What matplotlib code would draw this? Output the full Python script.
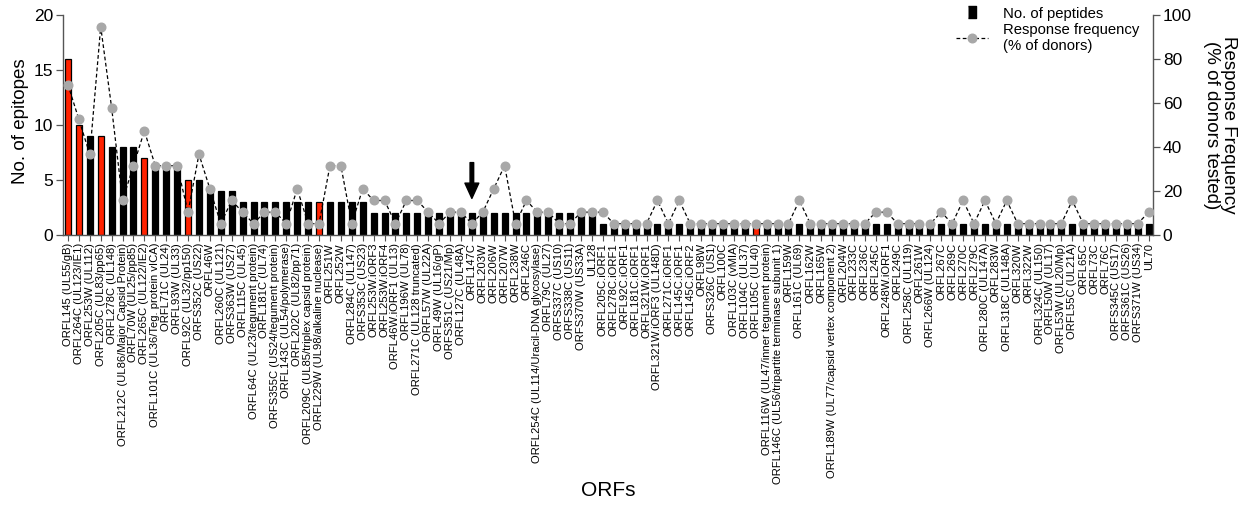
"""
Epitopes per ORF with donor response frequency overlay
"""

import matplotlib
matplotlib.use('Agg')
import matplotlib.pyplot as plt
from matplotlib.lines import Line2D

plt.rcParams['font.family'] = ['Liberation Sans', 'DejaVu Sans']

ORFS = [
    'ORFL145 (UL55/gB)', 'ORFL264C (UL123/IE1)', 'ORFL253W (UL112)', 'ORFL205C (UL83/pp65)',
    'ORFL278C (UL148)', 'ORFL212C (UL86/Major Capsid Protein)', 'ORFL70W (UL25/pp85)',
    'ORFL265C (UL122/IE2)', 'ORFL101C (UL36/Teg. protein vICA)', 'ORFL71C (UL24)',
    'ORFL93W (UL33)', 'ORFL92C (UL32/pp150)', 'ORFS352C (US22)', 'ORFL46W', 'ORFL260C (UL121)',
    'ORFS363W (US27)', 'ORFL115C (UL45)', 'ORFL64C (UL23/tegument protein)', 'ORFL181C (UL74)',
    'ORFS355C (US24/tegument protein)', 'ORFL143C (UL54/polymerase)', 'ORFL202C (UL82/pp71)',
    'ORFL209C (UL85/triplex capsid protein)', 'ORFL229W (UL98/alkaline nuclease)', 'ORFL251W',
    'ORFL252W', 'ORFL284C (UL147)', 'ORFS353C (US23)', 'ORFL253W.iORF3', 'ORFL253W.iORF4',
    'ORFL46W.iORF1 (UL13)', 'ORFL196W (UL78)', 'ORFL271C (UL128 truncated)', 'ORFL57W (UL22A)',
    'ORFL49W (UL16/gP)', 'ORFS351C (US21/Mp)', 'ORFL127C (UL48A)', 'ORFL147C', 'ORFL203W',
    'ORFL206W', 'ORFL207W', 'ORFL238W', 'ORFL246C', 'ORFL254C (UL114/Uracil-DNA glycosylase)',
    'ORFL79C (UL27)', 'ORFS337C (US10)', 'ORFS338C (US11)', 'ORFS370W (US33A)', 'UL128',
    'ORFL205C.iORF1', 'ORFL278C.iORF1', 'ORFL92C.iORF1', 'ORFL181C.iORF1', 'ORFL321W.iORF1',
    'ORFL321W.iORF3 (UL148D)', 'ORFL271C.iORF1', 'ORFL145C.iORF1', 'ORFL145C.iORF2', 'ORFL98W',
    'ORFS326C (US1)', 'ORFL100C', 'ORFL103C (vMIA)', 'ORFL104C (UL37)', 'ORFL105C (UL40)',
    'ORFL116W (UL47/inner tegument protein)', 'ORFL146C (UL56/tripartite terminase subunit 1)',
    'ORFL159W', 'ORFL161C (UL69)', 'ORFL162W', 'ORFL165W',
    'ORFL189W (UL77/capsid vertex component 2)', 'ORFL204W', 'ORFL233C', 'ORFL236C', 'ORFL245C',
    'ORFL248W.iORF1', 'ORFL249C', 'ORFL258C (UL119)', 'ORFL261W', 'ORFL266W (UL124)', 'ORFL267C',
    'ORFL269C', 'ORFL270C', 'ORFL279C', 'ORFL280C (UL147A)', 'ORFL283W', 'ORFL318C (UL148A)',
    'ORFL320W', 'ORFL322W', 'ORFL324C (UL150)', 'ORFL50W (UL17)', 'ORFL53W (UL20/Mp)',
    'ORFL55C (UL21A)', 'ORFL65C', 'ORFL73C', 'ORFL76C', 'ORFS345C (US17)', 'ORFS361C (US26)',
    'ORFS371W (US34)', 'UL70',
]

EPITOPES = [16, 10, 9, 9, 8, 8, 8, 7, 6, 6, 6, 5, 5, 4, 4, 4] + [3] * 12 + [2] * 21 + [1] * 51

RESPONSE = [
    68.4, 52.6, 36.8, 94.7, 57.9, 15.8, 31.6, 47.4, 31.6, 31.6,
    31.6, 10.5, 36.8, 21.1, 5.3, 15.8, 10.5, 5.3, 10.5, 10.5,
    5.3, 21.1, 5.3, 5.3, 31.6, 31.6, 5.3, 21.1, 15.8, 15.8,
    5.3, 15.8, 15.8, 10.5, 5.3, 10.5, 10.5, 5.3, 10.5, 21.1,
    31.6, 5.3, 15.8, 10.5, 10.5, 5.3, 5.3, 10.5, 10.5, 10.5,
    5.3, 5.3, 5.3, 5.3, 15.8, 5.3, 15.8, 5.3, 5.3, 5.3,
    5.3, 5.3, 5.3, 5.3, 5.3, 5.3, 5.3, 15.8, 5.3, 5.3,
    5.3, 5.3, 5.3, 5.3, 10.5, 10.5, 5.3, 5.3, 5.3, 5.3,
    10.5, 5.3, 15.8, 5.3, 15.8, 5.3, 15.8, 5.3, 5.3, 5.3,
    5.3, 5.3, 15.8, 5.3, 5.3, 5.3, 5.3, 5.3, 5.3, 10.5,
]

RED_ORFS = ['ORFL145 (UL55/gB)', 'ORFL264C (UL123/IE1)', 'ORFL205C (UL83/pp65)',
            'ORFL265C (UL122/IE2)', 'ORFL92C (UL32/pp150)', 'ORFL229W (UL98/alkaline nuclease)',
            'ORFL105C (UL40)']
ARROW_ORF = 'ORFL147C'

AXIS_COL = '#555555'
DOT_COL = '#A8A8A8'
DASH = (0, (3, 2))

fig = plt.figure(figsize=(12.46, 5.08), dpi=100)
ax = fig.add_axes([0.0506, 0.5368, 0.8748, 0.4337])
ax2 = ax.twinx()

x = list(range(len(ORFS)))
colors = ['#FF2200' if o in RED_ORFS else 'black' for o in ORFS]
ax.bar(x, EPITOPES, width=0.55, color=colors, edgecolor='black', linewidth=0.9, zorder=2)

ax2.plot(x, RESPONSE, color='black', linestyle=DASH, linewidth=0.9,
         marker='o', markersize=6.2, markerfacecolor=DOT_COL, markeredgecolor=DOT_COL, zorder=3)

ax.set_xlim(-0.45, len(ORFS) - 0.6)
ax.set_ylim(0, 20)
ax2.set_ylim(0, 100)
ax.set_yticks([0, 5, 10, 15, 20])
ax2.set_yticks([0, 20, 40, 60, 80, 100])

ax.set_xticks(x)
ax.set_xticklabels(ORFS, rotation=90, fontsize=8.1)
ax.tick_params(axis='x', length=4, width=0.8, color=AXIS_COL, pad=1.5)
ax.tick_params(axis='y', labelsize=12.5, length=5, width=0.9, color=AXIS_COL, pad=2)
ax2.tick_params(axis='y', labelsize=12.5, length=5, width=0.9, color=AXIS_COL, pad=2)

for a in (ax, ax2):
    a.spines['top'].set_visible(False)
    for s in ('left', 'right', 'bottom'):
        a.spines[s].set_color(AXIS_COL)
        a.spines[s].set_linewidth(1.0)
ax.spines['right'].set_visible(False)
ax2.spines['left'].set_visible(False)
ax2.spines['bottom'].set_visible(False)

ax.set_ylabel('No. of epitopes', fontsize=13.5)
ax.yaxis.set_label_coords(-0.031, 0.52)
ax.set_xlabel('ORFs', fontsize=15)
ax.xaxis.set_label_coords(0.5, -1.115)
ax2.set_ylabel('Response Frequency\n(% of donors tested)', fontsize=13.5, rotation=270,
               va='center', ha='center', linespacing=1.0)
ax2.yaxis.set_label_coords(1.061, 0.5)

i_arrow = ORFS.index(ARROW_ORF)
ax.annotate('', xy=(i_arrow, 3.35), xytext=(i_arrow, 6.6),
            arrowprops=dict(facecolor='black', edgecolor='black', width=2.6,
                            headwidth=10, headlength=11, shrink=0), zorder=5)

bar_marker = [(-2, -3), (2, -3), (2, 3), (-2, 3)]
handles = [
    Line2D([0], [0], linestyle='none', marker=bar_marker, markersize=9,
           markerfacecolor='black', markeredgecolor='black', label='No. of peptides'),
    Line2D([0], [0], color='black', linestyle=DASH, linewidth=0.9, marker='o',
           markersize=6.2, markerfacecolor=DOT_COL, markeredgecolor=DOT_COL,
           label='Response frequency\n(% of donors)'),
]
leg = ax2.legend(handles=handles, loc='upper left', bbox_to_anchor=(0.8135, 1.065),
                 frameon=False, fontsize=10.7, handlelength=2.2, handletextpad=1.0,
                 labelspacing=0.15, borderaxespad=0)

fig.savefig('out.png', dpi=100)
